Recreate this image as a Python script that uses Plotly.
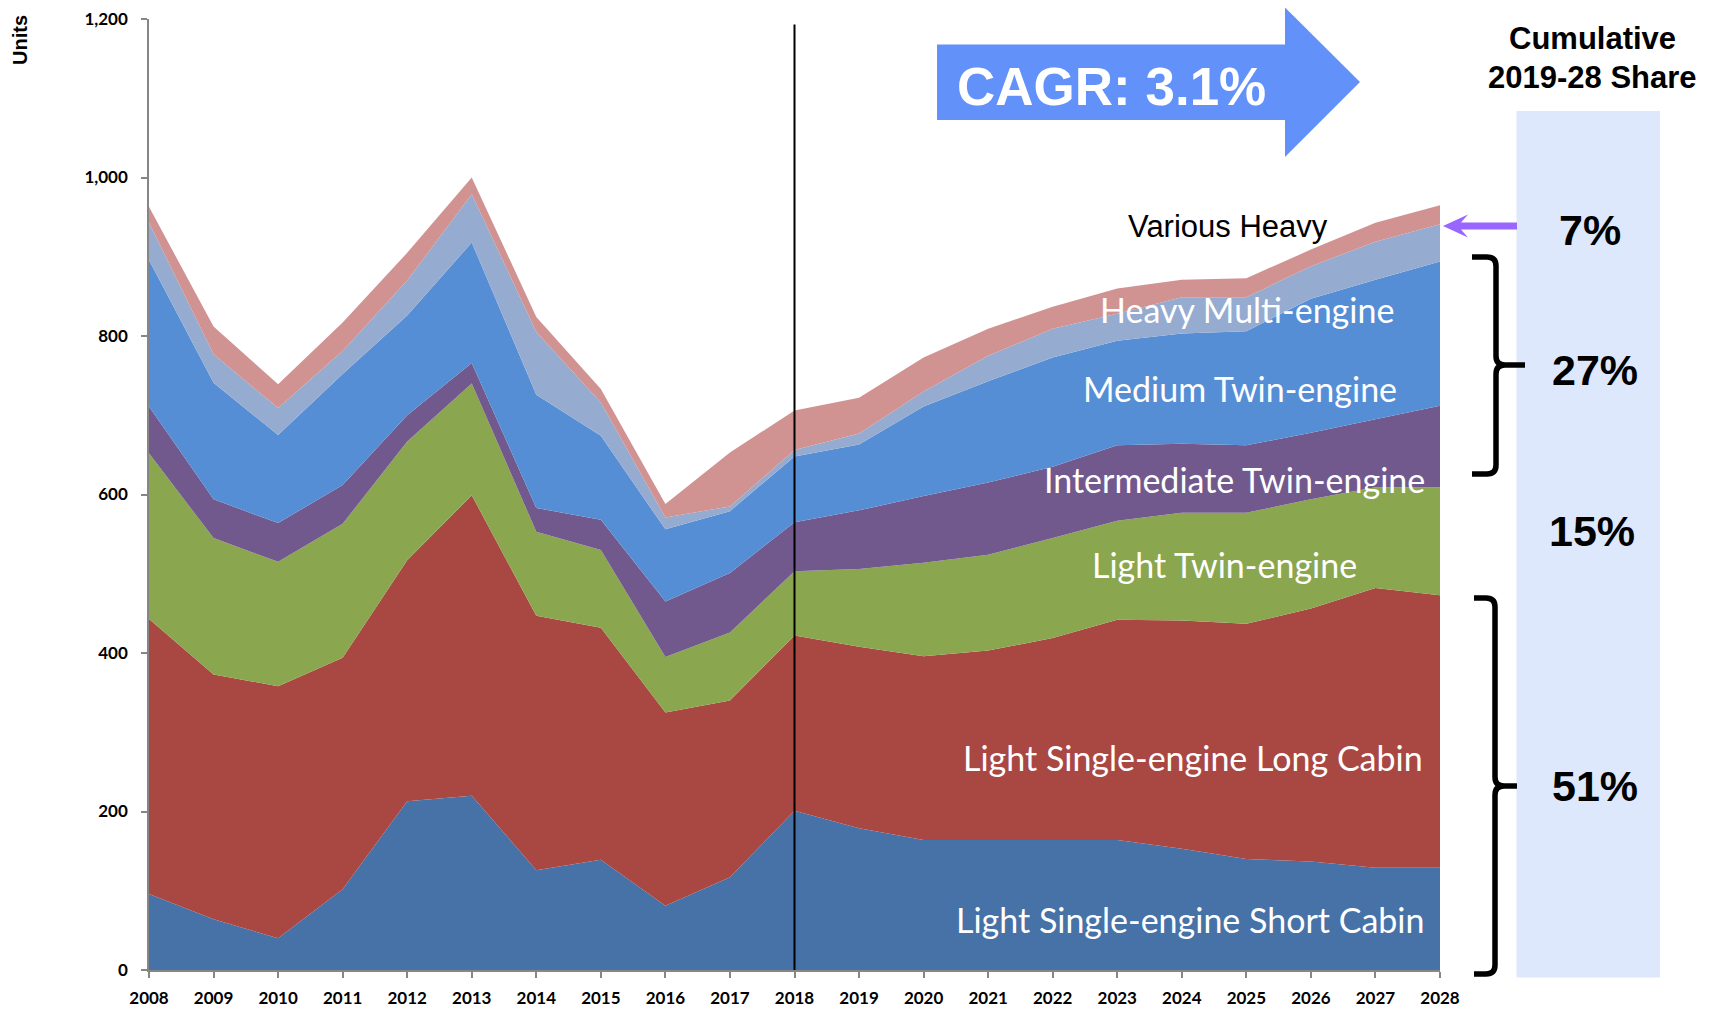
import plotly.graph_objects as go

# ---------------- data ----------------
years = list(range(2008, 2029))
year_labels = [str(y) for y in years]

light_single_short = [96, 64, 40, 102, 213, 220, 126, 139, 81, 117, 201, 179, 164, 164, 164, 164, 153, 140, 137, 129, 129]
light_single_long = [347, 309, 318, 292, 304, 379, 321, 293, 244, 223, 221, 229, 232, 239, 255, 278, 288, 297, 319, 353, 344]
light_twin = [209, 172, 157, 169, 150, 141, 106, 98, 70, 86, 81, 98, 118, 121, 126, 125, 136, 140, 138, 127, 136]
intermediate_twin = [59, 49, 49, 49, 33, 26, 30, 38, 70, 75, 62, 74, 84, 91, 90, 95, 87, 85, 84, 86, 103]
medium_twin = [185, 147, 111, 140, 126, 152, 143, 106, 91, 78, 83, 83, 113, 128, 138, 132, 139, 144, 169, 176, 182]
heavy_multi = [47, 36, 34, 29, 44, 61, 79, 42, 15, 6, 8, 14, 19, 32, 36, 34, 46, 43, 41, 48, 47]
various_heavy = [20, 35, 30, 36, 35, 21, 19, 17, 17, 68, 50, 45, 43, 34, 28, 32, 22, 24, 21, 24, 24]

series_names = ["Light Single-engine Short Cabin", "Light Single-engine Long Cabin",
                "Light Twin-engine", "Intermediate Twin-engine", "Medium Twin-engine",
                "Heavy Multi-engine", "Various Heavy"]
series_values = [light_single_short, light_single_long, light_twin, intermediate_twin,
                 medium_twin, heavy_multi, various_heavy]
series_colors = ["#4672A8", "#A94743", "#8AA64E", "#72598D", "#558ED5", "#96ABD0", "#D09392"]

y_ticks = [0, 200, 400, 600, 800, 1000, 1200]
y_tick_labels = ["0", "200", "400", "600", "800", "1,000", "1,200"]

cagr_text = "CAGR: 3.1%"
share_labels = ["7%", "27%", "15%", "51%"]

# ---------------- layout helpers (pixel -> paper) ----------------
W, H = 1719, 1009
L, R, T, B = 149, 1440, 19, 970


def px(x):
    return (x - L) / (R - L)


def py(y):
    return (B - y) / (B - T)


def path(cmds):
    out = []
    for c in cmds:
        if isinstance(c, str):
            out.append(c)
        else:
            out.append(f"{px(c[0]):.5f},{py(c[1]):.5f}")
    return " ".join(out)


fig = go.Figure()
for name, vals, col in zip(series_names, series_values, series_colors):
    fig.add_trace(go.Scatter(
        x=years, y=vals, name=name, stackgroup="one", mode="lines",
        line=dict(width=0, color=col), fillcolor=col, hoverinfo="x+y+name"))

shapes = []
# 2018 divider line
shapes.append(dict(type="line", xref="x", yref="y", x0=2018, x1=2018, y0=0, y1=1193,
                   line=dict(color="black", width=2), layer="above"))
# CAGR arrow
shapes.append(dict(type="path", xref="paper", yref="paper",
                   path=path(["M", (937, 44.5), "L", (1285, 44.5), "L", (1285, 7.5), "L", (1360, 82),
                              "L", (1285, 157), "L", (1285, 120), "L", (937, 120), "Z"]),
                   fillcolor="#6191F9", line=dict(width=0), layer="above"))
# right share panel
shapes.append(dict(type="rect", xref="paper", yref="paper",
                   x0=px(1516.5), x1=px(1660), y0=py(977.5), y1=py(111),
                   fillcolor="#DEE8FC", line=dict(width=0), layer="above"))


def bracket(top, mid, bot, xa, xv, xn, r=9):
    return path(["M", (xa, top), "L", (xv - r, top), "Q", (xv, top), (xv, top + r),
                 "L", (xv, mid - r), "Q", (xv, mid), (xv + r, mid), "L", (xn, mid),
                 "M", (xv + r, mid), "Q", (xv, mid), (xv, mid + r),
                 "L", (xv, bot - r), "Q", (xv, bot), (xv - r, bot), "L", (xa, bot)])


shapes.append(dict(type="path", xref="paper", yref="paper", path=bracket(257, 365, 474, 1472, 1496, 1525),
                   line=dict(color="black", width=5.5), layer="above"))
shapes.append(dict(type="path", xref="paper", yref="paper", path=bracket(598, 786, 974, 1474, 1495, 1517),
                   line=dict(color="black", width=5.5), layer="above"))
# purple arrow pointing to Various Heavy
shapes.append(dict(type="path", xref="paper", yref="paper",
                   path=path(["M", (1443, 226), "L", (1468, 214.5), "L", (1461, 222.5), "L", (1517, 222.5),
                              "L", (1517, 229.5), "L", (1461, 229.5), "L", (1468, 237.5), "Z"]),
                   fillcolor="#9966FF", line=dict(width=0), layer="above"))

ann = []


def text(x, y, s, size, color="black", family="Liberation Sans", weight="normal", **kw):
    ann.append(dict(x=px(x), y=py(y), xref="paper", yref="paper", text=s, showarrow=False,
                    xanchor=kw.get("xanchor", "center"), yanchor="middle",
                    textangle=kw.get("angle", 0),
                    font=dict(size=size, color=color, family=family, weight=weight)))


text(20, 40, "Units", 20, weight="bold", angle=-90)
text(955, 86, cagr_text, 53, color="white", weight="bold", xanchor="left")
text(1592, 39, "Cumulative", 31, weight="bold")
text(1592, 78, "2019-28 Share", 31, weight="bold")
for s, (x, y) in zip(share_labels, [(1590, 230), (1595, 370), (1592, 531), (1595, 786)]):
    text(x, y, s, 43, weight="bold")

text(1228, 227, "Various Heavy", 31)
area_labels = [("Heavy Multi-engine", 1247, 309), ("Medium Twin-engine", 1240, 388),
               ("Intermediate Twin-engine", 1234, 479), ("Light Twin-engine", 1224, 564),
               ("Light Single-engine Long Cabin", 1193, 757), ("Light Single-engine Short Cabin", 1190, 919)]
for s, x, y in area_labels:
    text(x, y, s, 34, color="white", family="Lato")

axis_common = dict(showline=True, linecolor="#868686", linewidth=1.5, ticks="outside", ticklen=6,
                   tickwidth=1.5, tickcolor="#868686", showgrid=False, zeroline=False, automargin=False,
                   tickfont=dict(family="Lato", size=17, color="black", weight="bold"))

fig.update_layout(
    width=W, height=H, autosize=False,
    margin=dict(l=L, r=W - R, t=T, b=H - B, pad=0, autoexpand=False),
    paper_bgcolor="white", plot_bgcolor="white",
    showlegend=False,
    xaxis=dict(range=[2008, 2028], tickmode="array", tickvals=years, ticktext=year_labels,
               ticklabelstandoff=6, **axis_common),
    yaxis=dict(range=[0, 1200], tickmode="array", tickvals=y_ticks, ticktext=y_tick_labels,
               ticklabelstandoff=10, **axis_common),
    shapes=shapes, annotations=ann,
)

fig.write_html("out.html", config={"displayModeBar": False},
               post_script="document.body.style.margin='0';")
